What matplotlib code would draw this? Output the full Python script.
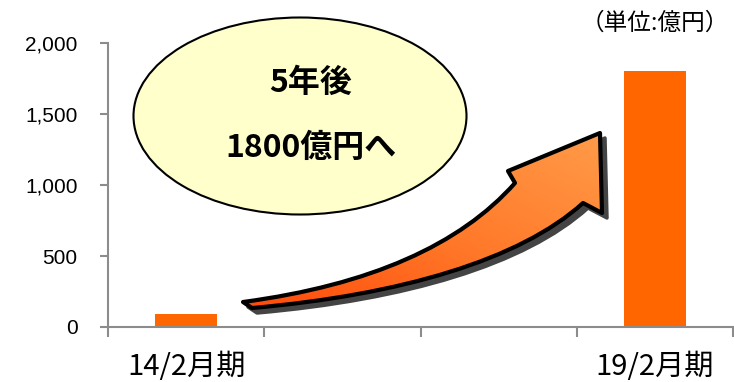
import numpy as np
import matplotlib
matplotlib.use('Agg')
from matplotlib import pyplot as plt
from matplotlib.patches import Ellipse, PathPatch
from matplotlib.path import Path
from matplotlib.colors import LinearSegmentedColormap

# data
periods = ['14/2月期', '', '', '19/2月期']
sales = [90, np.nan, np.nan, 1800]
yticks = [0, 500, 1000, 1500, 2000]
ytick_labels = ['0', '500', '1,000', '1,500', '2,000']
unit_label = '（単位:億円）'
bubble_lines = ['5年後', '1800億円へ']

W, H = 734, 382
fig = plt.figure(figsize=(W / 100, H / 100), dpi=100)
ax = fig.add_axes([108 / W, 1 - 327 / H, (733 - 108) / W, (327 - 43) / H])

x = np.arange(len(periods))
ax.bar(x, sales, width=0.4, color='#FF6600', zorder=2)

ax.set_xlim(-0.5, len(periods) - 0.5)
ax.set_ylim(0, 2000)
ax.set_yticks(yticks)
ax.set_yticklabels(ytick_labels, family=['Liberation Sans'], fontsize=15)
ax.set_xticks(x)
ax.set_xticklabels(periods, family=['Noto Sans CJK JP'], fontsize=21)
ax.set_xticks(np.arange(len(periods) + 1) - 0.5, minor=True)

gray = '#8C8C8C'
ax.tick_params(axis='y', length=6, width=1.5, color=gray, pad=16)
ax.tick_params(axis='x', which='major', length=0, pad=18)
ax.tick_params(axis='x', which='minor', length=7, width=1.5, color=gray)
for s in ['top', 'right']:
    ax.spines[s].set_visible(False)
for s in ['left', 'bottom']:
    ax.spines[s].set_color(gray)
    ax.spines[s].set_linewidth(1.5)

# overlay in pixel coordinates for the decorations
ov = fig.add_axes([0, 0, 1, 1], zorder=5)
ov.set_xlim(0, W)
ov.set_ylim(H, 0)
ov.axis('off')
ov.patch.set_alpha(0)

ov.add_patch(Ellipse((300, 116), 333, 197, facecolor='#FFFFCC',
                     edgecolor='black', lw=1.5))
ov.text(311, 83, bubble_lines[0], ha='center', va='center', fontsize=23,
        fontweight='bold', family=['Noto Sans CJK JP'])
ov.text(311, 148, bubble_lines[1], ha='center', va='center', fontsize=23,
        fontweight='bold', family=['Noto Sans CJK JP'])

ov.text(729, 23, unit_label, ha='right', va='center', fontsize=17,
        family=['Noto Sans CJK JP'])

# curved arrow
verts = [(243, 302),
         (370, 285), (460, 245), (515, 183),
         (508, 171), (600, 133), (602, 213), (583, 203),
         (520, 260), (400, 295), (252, 308),
         (243, 302)]
codes = [Path.MOVETO,
         Path.CURVE4, Path.CURVE4, Path.CURVE4,
         Path.LINETO, Path.LINETO, Path.LINETO, Path.LINETO,
         Path.CURVE4, Path.CURVE4, Path.CURVE4,
         Path.CLOSEPOLY]
arrow = Path(verts, codes)
shadow = Path(np.array(verts) + [5, 5], codes)
ov.add_patch(PathPatch(shadow, facecolor='#444444', edgecolor='#444444',
                       lw=2.5, joinstyle='round'))
body = PathPatch(arrow, facecolor='none', edgecolor='black', lw=3,
                 joinstyle='round', zorder=3)
ov.add_patch(body)
cmap = LinearSegmentedColormap.from_list('arr', ['#FF4A0A', '#FF7A2A', '#FF9C4A'])
gx, gy = np.meshgrid(np.linspace(0, 1, 100), np.linspace(0, 1, 100))
grad = (gx + (1 - gy)) / 2
img = ov.imshow(grad, cmap=cmap, extent=(240, 610, 310, 130), zorder=2,
                aspect='auto', origin='upper')
img.set_clip_path(body)
ov.set_xlim(0, W)
ov.set_ylim(H, 0)

fig.savefig('out.png', dpi=100)
